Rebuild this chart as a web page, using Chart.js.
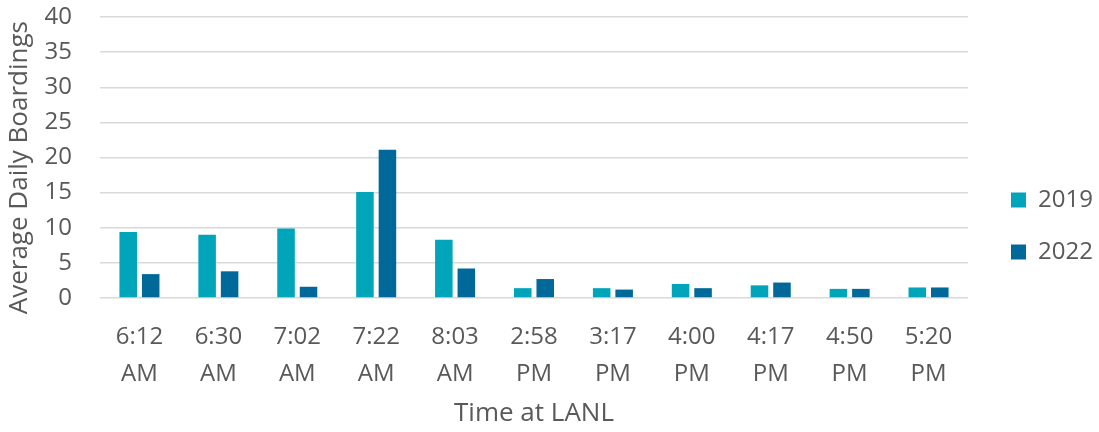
<!DOCTYPE html>
<html>
<head>
<meta charset="utf-8">
<script src="https://cdn.jsdelivr.net/npm/chart.js@4/dist/chart.umd.min.js"></script>
<style>
html,body{margin:0;padding:0;background:#fff;}
#wrap{width:1099px;height:432px;position:relative;}
</style>
</head>
<body>
<div id="wrap"><canvas id="c" width="1099" height="432"></canvas></div>
<script>
const categories = [['6:12','AM'],['6:30','AM'],['7:02','AM'],['7:22','AM'],['8:03','AM'],['2:58','PM'],['3:17','PM'],['4:00','PM'],['4:17','PM'],['4:50','PM'],['5:20','PM']];
const series2019 = [9.4, 9.0, 9.9, 15.1, 8.3, 1.4, 1.4, 2.0, 1.8, 1.3, 1.5];
const series2022 = [3.4, 3.8, 1.6, 21.1, 4.2, 2.7, 1.2, 1.4, 2.2, 1.3, 1.5];
const yTicks = [0,5,10,15,20,25,30,35,40];

const FONT = "'Open Sans', 'Noto Sans', sans-serif";
const TXT = '#595959';

new Chart(document.getElementById('c'), {
  type: 'bar',
  data: {
    labels: categories,
    datasets: [
      {label: '2019', data: series2019, backgroundColor: '#00a5b9', borderWidth: 0},
      {label: '2022', data: series2022, backgroundColor: '#00699a', borderWidth: 0}
    ]
  },
  options: {
    responsive: false,
    animation: false,
    devicePixelRatio: 1,
    layout: {padding: {top: 17, right: 5, bottom: 3, left: 4}},
    datasets: {bar: {categoryPercentage: 0.57, barPercentage: 0.78}},
    plugins: {
      legend: {
        position: 'right',
        maxWidth: 111,
        title: {display: true, text: ' ', font: {size: 5}, padding: 0},
        labels: {
          boxWidth: 15, boxHeight: 15, padding: 28,
          color: TXT, font: {family: FONT, size: 24}
        }
      },
      tooltip: {enabled: false}
    },
    scales: {
      x: {
        afterFit: (axis) => { axis.height = 131; },
        grid: {display: false, drawTicks: false},
        border: {display: false},
        ticks: {color: TXT, font: {family: FONT, size: 24, lineHeight: 1.52}, padding: 21, maxRotation: 0, autoSkip: false},
        title: {display: true, text: 'Time at LANL', color: TXT, font: {family: FONT, size: 26}, padding: {top: 6, bottom: 0}}
      },
      y: {
        min: 0, max: 40,
        afterBuildTicks: (axis) => { axis.ticks = yTicks.map(v => ({value: v})); },
        afterFit: (axis) => { axis.width = 96; },
        grid: {color: '#d9d9d9', lineWidth: 1.5, drawTicks: true, tickLength: 26, tickColor: 'rgba(0,0,0,0)'},
        border: {display: false},
        ticks: {color: TXT, font: {family: FONT, size: 24}, padding: 2},
        title: {display: true, text: 'Average Daily Boardings   ', color: TXT, font: {family: FONT, size: 26}, padding: {top: 0, bottom: 0}}
      },
      spacer: {
        type: 'linear',
        position: 'right',
        display: true,
        grid: {display: false, drawTicks: false},
        border: {display: false},
        ticks: {display: false},
        afterFit: (axis) => { axis.width = 15; }
      }
    }
  }
});
</script>
</body>
</html>
